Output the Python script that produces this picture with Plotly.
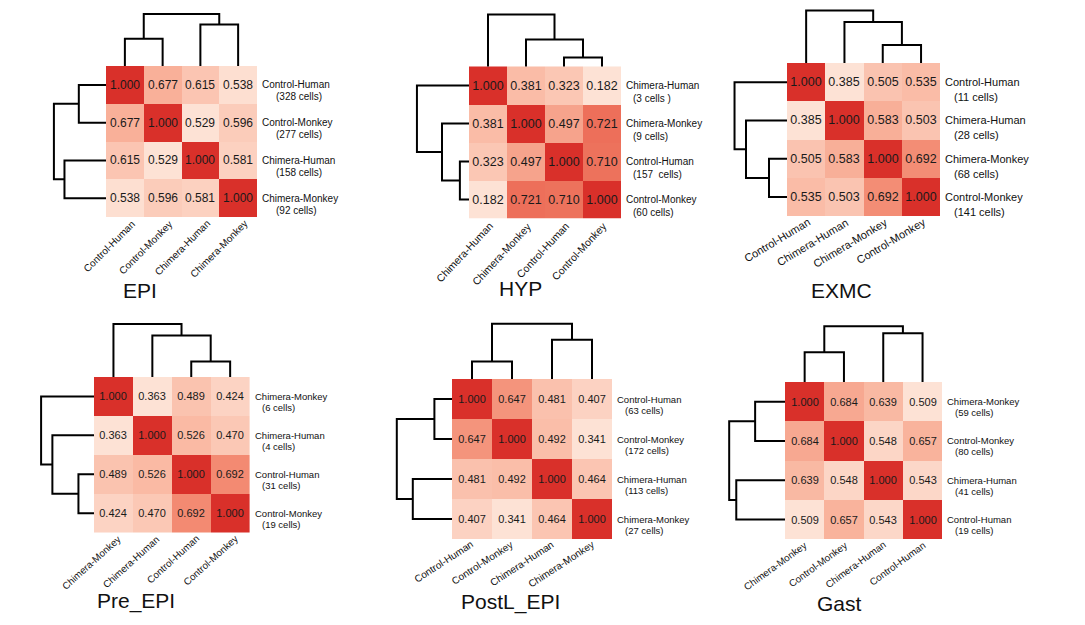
import math
import plotly.graph_objects as go

# ---------------- data ----------------
titles = ["EPI", "HYP", "EXMC", "Pre_EPI", "PostL_EPI", "Gast"]

epi_groups = ["Control-Human", "Control-Monkey", "Chimera-Human", "Chimera-Monkey"]
epi_cells = ["(328 cells)", "(277 cells)", "(158 cells)", "(92 cells)"]
epi_corr = [[1.000, 0.677, 0.615, 0.538],
            [0.677, 1.000, 0.529, 0.596],
            [0.615, 0.529, 1.000, 0.581],
            [0.538, 0.596, 0.581, 1.000]]
epi_merges = [[0, 1, 0.72], [2, 3, 1.10], [4, 5, 1.38]]

hyp_groups = ["Chimera-Human", "Chimera-Monkey", "Control-Human", "Control-Monkey"]
hyp_cells = ["(3 cells )", "(9 cells)", "(157  cells)", "(60 cells)"]
hyp_corr = [[1.000, 0.381, 0.323, 0.182],
            [0.381, 1.000, 0.497, 0.721],
            [0.323, 0.497, 1.000, 0.710],
            [0.182, 0.721, 0.710, 1.000]]
hyp_merges = [[2, 3, 0.24], [1, 4, 0.71], [0, 5, 1.37]]

exmc_groups = ["Control-Human", "Chimera-Human", "Chimera-Monkey", "Control-Monkey"]
exmc_cells = ["(11 cells)", "(28 cells)", "(68 cells)", "(141 cells)"]
exmc_corr = [[1.000, 0.385, 0.505, 0.535],
             [0.385, 1.000, 0.583, 0.503],
             [0.505, 0.583, 1.000, 0.692],
             [0.535, 0.503, 0.692, 1.000]]
exmc_merges = [[2, 3, 0.47], [1, 4, 1.07], [0, 5, 1.37]]

pre_groups = ["Chimera-Monkey", "Chimera-Human", "Control-Human", "Control-Monkey"]
pre_cells = ["(6 cells)", "(4 cells)", "(31 cells)", "(19 cells)"]
pre_corr = [[1.000, 0.363, 0.489, 0.424],
            [0.363, 1.000, 0.526, 0.470],
            [0.489, 0.526, 1.000, 0.692],
            [0.424, 0.470, 0.692, 1.000]]
pre_merges = [[2, 3, 0.40], [1, 4, 1.07], [0, 5, 1.36]]

postl_groups = ["Control-Human", "Control-Monkey", "Chimera-Human", "Chimera-Monkey"]
postl_cells = ["(63 cells)", "(172 cells)", "(113 cells)", "(27 cells)"]
postl_corr = [[1.000, 0.647, 0.481, 0.407],
              [0.647, 1.000, 0.492, 0.341],
              [0.481, 0.492, 1.000, 0.464],
              [0.407, 0.341, 0.464, 1.000]]
postl_merges = [[0, 1, 0.44], [2, 3, 0.98], [4, 5, 1.38]]

gast_groups = ["Chimera-Monkey", "Control-Monkey", "Chimera-Human", "Control-Human"]
gast_cells = ["(59 cells)", "(80 cells)", "(41 cells)", "(19 cells)"]
gast_corr = [[1.000, 0.684, 0.639, 0.509],
             [0.684, 1.000, 0.548, 0.657],
             [0.639, 0.548, 1.000, 0.543],
             [0.509, 0.657, 0.543, 1.000]]
gast_merges = [[0, 1, 0.76], [2, 3, 1.24], [4, 5, 1.42]]

panel_groups = [epi_groups, hyp_groups, exmc_groups, pre_groups, postl_groups, gast_groups]
panel_cells = [epi_cells, hyp_cells, exmc_cells, pre_cells, postl_cells, gast_cells]
panel_corr = [epi_corr, hyp_corr, exmc_corr, pre_corr, postl_corr, gast_corr]
panel_merges = [epi_merges, hyp_merges, exmc_merges, pre_merges, postl_merges, gast_merges]

# ---------------- layout / style ----------------
W, H = 1085, 625
DEND = 62  # px reserved for dendrograms
FONT = "Liberation Sans, Arial, Helvetica, sans-serif"
REDS = [[0.0, "#fde2d5"], [0.3, "#f9b39c"], [0.6, "#f07a62"], [1.0, "#d9302a"]]

geom = [
    dict(L=106, T=66, c=37.75, cf=12, rf=10, xf=10, ang=45, ox=8, ind=14, gap=12, tx=140, ty=290),
    dict(L=469, T=66.5, c=38.0, cf=12.5, rf=10, xf=10.5, ang=47, ox=3, ind=7, gap=13, tx=520, ty=289),
    dict(L=787, T=63, c=38.3, cf=12.5, rf=11, xf=11, ang=31, ox=4, ind=9, gap=15, tx=841, ty=290),
    dict(L=94, T=377, c=38.9, cf=11, rf=9.5, xf=9.8, ang=42, ox=6, ind=7, gap=11, tx=136, ty=601),
    dict(L=452, T=379, c=40.0, cf=11, rf=9.5, xf=10, ang=33, ox=1, ind=8, gap=11, tx=510, ty=602),
    dict(L=785, T=382, c=39.3, cf=11, rf=9.5, xf=9.8, ang=36, ox=2, ind=8, gap=11, tx=839, ty=603),
]


def dendro(merges, n=4):
    pos = {i: i + 0.5 for i in range(n)}
    hgt = {i: 0.0 for i in range(n)}
    p, h = [], []
    for k, (a, b, hh) in enumerate(merges):
        pa, pb, ha, hb = pos[a], pos[b], hgt[a], hgt[b]
        p += [pa, pa, pb, pb, None]
        h += [ha, hh, hh, hb, None]
        pos[n + k] = (pa + pb) / 2
        hgt[n + k] = hh
    return p, h


fig = go.Figure()
annotations = []
layout_axes = {}

for i in range(6):
    g = geom[i]
    L, T, c = g["L"], g["T"], g["c"]
    aid = "" if i == 0 else str(i + 1)
    xa, ya = "x" + aid, "y" + aid
    corr = panel_corr[i]
    zmin = min(min(r) for r in corr)

    def px(xd):
        return (L + c * xd) / W

    def py(yd):
        return 1 - (T + c * yd) / H

    fig.add_trace(go.Heatmap(
        z=corr, x=[0.5, 1.5, 2.5, 3.5], y=[0.5, 1.5, 2.5, 3.5],
        text=[[f"{v:.3f}" for v in r] for r in corr], texttemplate="%{text}",
        textfont=dict(family=FONT, size=g["cf"], color="#1a1a1a"),
        colorscale=REDS, zmin=zmin, zmax=1.0, showscale=False,
        xaxis=xa, yaxis=ya, hoverinfo="skip"))
    p, h = dendro(panel_merges[i])
    nh = [(-v if v is not None else None) for v in h]
    fig.add_trace(go.Scatter(x=p, y=nh, mode="lines", line=dict(color="black", width=2),
                             xaxis=xa, yaxis=ya, hoverinfo="skip", showlegend=False))
    fig.add_trace(go.Scatter(x=nh, y=p, mode="lines", line=dict(color="black", width=2),
                             xaxis=xa, yaxis=ya, hoverinfo="skip", showlegend=False))
    dk = DEND / c
    layout_axes["xaxis" + aid] = dict(domain=[(L - DEND) / W, (L + 4 * c) / W], range=[-dk, 4],
                                      visible=False, fixedrange=True)
    layout_axes["yaxis" + aid] = dict(domain=[1 - (T + 4 * c) / H, 1 - (T - DEND) / H], range=[4, -dk],
                                      visible=False, fixedrange=True)
    th = math.radians(g["ang"])
    axo = g["ox"] + 9.5 * math.sin(th)
    ayo = 5 - 9.5 * math.cos(th)
    for r, (grp, cells) in enumerate(zip(panel_groups[i], panel_cells[i])):
        annotations.append(dict(x=px(4 + 3 / c), y=py(r + 0.5), xref="paper", yref="paper", text=grp,
                                showarrow=False, xanchor="left", yanchor="middle",
                                font=dict(family=FONT, size=g["rf"], color="#111")))
        annotations.append(dict(x=px(4 + (3 + g["ind"]) / c), y=py(r + 0.5 + g["gap"] / c),
                                xref="paper", yref="paper",
                                text=cells.replace(" ", "\u00a0"),
                                showarrow=False, xanchor="left", yanchor="middle",
                                font=dict(family=FONT, size=g["rf"], color="#111")))
        annotations.append(dict(x=px(r + 0.5 + axo / c), y=py(4 + ayo / c), xref="paper", yref="paper",
                                text=grp, showarrow=False, xanchor="right", yanchor="top",
                                textangle=-g["ang"],
                                font=dict(family=FONT, size=g["xf"], color="#111")))
    annotations.append(dict(x=g["tx"] / W, y=1 - g["ty"] / H, xref="paper", yref="paper",
                            text=titles[i], showarrow=False, xanchor="center", yanchor="middle",
                            font=dict(family=FONT, size=21, color="#111")))

fig.update_layout(width=W, height=H, margin=dict(l=0, r=0, t=0, b=0),
                  paper_bgcolor="white", plot_bgcolor="white", showlegend=False,
                  annotations=annotations, **layout_axes)

fig.write_html("out.html", config={"displayModeBar": False},
               post_script="document.body.style.margin='0px';")
